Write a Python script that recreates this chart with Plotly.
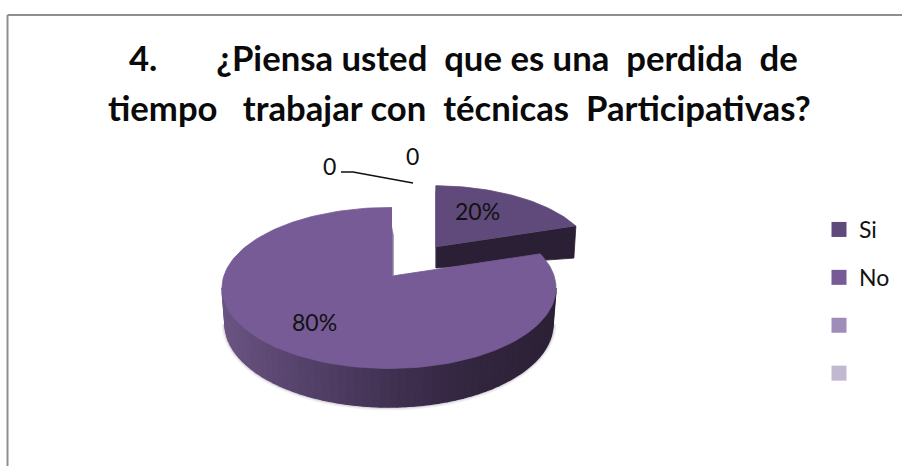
import math
import numpy as np
import plotly.graph_objects as go

# --- data ---
categories = ["Si", "No", "\u00a0", "\u00a0\u00a0"]
values = [20, 80, 0, 0]
colors = ["#604A7B", "#775B96", "#A08CB8", "#C1B8D2"]
title_lines = ["4.\u00a0\u00a0\u00a0\u00a0\u00a0\u00a0\u00a0¿Piensa usted\u00a0 que es una\u00a0 perdida\u00a0 de",
               "tiempo\u00a0\u00a0 trabajar con\u00a0 técnicas\u00a0 Participativas?"]

# --- geometry of the drawing (pixels) ---
W, H = 902, 466
MAIN = dict(apex=(392, 276), c=(389, 288), rx=167, ry=80.5)
EXPL = dict(apex=(436, 247), c=(433, 257.7), rx=159, ry=72)
LOW = dict(c=(389, 324), rx=164, ry=83)
K = 0.46
FONT = "Lato"
TXT = "#111111"


def rim(e, deg):
    """Rim point of slice angle deg (clockwise from 12 o'clock)."""
    a = math.radians(deg)
    dx, dy = math.sin(a), -math.cos(a) * K
    ax, ay = e["apex"][0] - e["c"][0], e["apex"][1] - e["c"][1]
    A = (dx / e["rx"]) ** 2 + (dy / e["ry"]) ** 2
    B = 2 * (ax * dx / e["rx"] ** 2 + ay * dy / e["ry"] ** 2)
    C = (ax / e["rx"]) ** 2 + (ay / e["ry"]) ** 2 - 1
    s = (-B + math.sqrt(B * B - 4 * A * C)) / (2 * A)
    return e["apex"][0] + s * dx, e["apex"][1] + s * dy


def poly(xs, ys, color, width=0.8):
    return go.Scatter(x=xs, y=ys, mode="lines", fill="toself", fillcolor=color,
                      line=dict(color=color, width=width),
                      hoverinfo="skip", showlegend=False)


def wall_color(x):
    stops_x = [222, 285, 400, 470, 556]
    stops_c = [(0x6B, 0x55, 0x83), (0x5A, 0x46, 0x70), (0x3F, 0x30, 0x50), (0x33, 0x26, 0x3F), (0x2C, 0x20, 0x36)]
    c = [np.interp(x, stops_x, [s[i] for s in stops_c]) for i in range(3)]
    return "rgb(%d,%d,%d)" % tuple(c)


angles = np.cumsum([0] + values) / sum(values) * 360
fig = go.Figure()

# soft shadow under the pie
for grow, col in [(3, "#EFEEF0"), (1.5, "#D9D7DB")]:
    ph = np.radians(np.linspace(0, 180, 60))
    fig.add_trace(poly(list(LOW["c"][0] + (LOW["rx"] + grow) * np.cos(ph)),
                       list(LOW["c"][1] + (LOW["ry"] + grow) * np.sin(ph)), col))

# exploded slice: radial wall, inner wall, top
a0, a1 = angles[0], angles[1]
ex_end = rim(EXPL, a1)
ex_start = rim(EXPL, a0)
ax_, ay_ = EXPL["apex"]
fig.add_trace(poly([ax_, ex_end[0], ex_end[0] - 2, ax_], [ay_, ex_end[1], ex_end[1] + 32, ay_ + 21], "#2A1F35"))
fig.add_trace(poly([ex_start[0], ax_, ax_, ex_start[0]], [ex_start[1], ay_, ay_ + 21, ex_start[1] + 6], "#3A2C4A"))
th = np.linspace(a0, a1, 60)
pts = [rim(EXPL, t) for t in th]
fig.add_trace(poly([ax_] + [p[0] for p in pts], [ay_] + [p[1] for p in pts], colors[0]))

# main slice: outer wall in a gradient
N = 60
ph = np.radians(np.linspace(0, 180, N + 1))
top = [(MAIN["c"][0] + MAIN["rx"] * np.cos(p), MAIN["c"][1] + MAIN["ry"] * np.sin(p)) for p in ph]
bot = [(LOW["c"][0] + LOW["rx"] * np.cos(p), LOW["c"][1] + LOW["ry"] * np.sin(p)) for p in ph]
for i in range(N):
    xs = [top[i][0], top[i + 1][0], bot[i + 1][0], bot[i][0]]
    ys = [top[i][1], top[i + 1][1], bot[i + 1][1], bot[i][1]]
    fig.add_trace(poly(xs, ys, wall_color(sum(xs) / 4), width=1.5))

# main slice: top face
a0, a1 = angles[1], angles[2]
th = np.linspace(a0, a1, 160)
pts = [rim(MAIN, t) for t in th]
ax_, ay_ = MAIN["apex"]
st = rim(MAIN, a1)
fig.add_trace(poly([ax_, ax_ + 1.5, ax_ + 1.5, ax_], [ay_, ay_ - 1, st[1] + 28, st[1] + 20], "#85799A", width=0.4))
fig.add_trace(poly([ax_] + [p[0] for p in pts], [ay_] + [p[1] for p in pts], colors[1]))

# leader line between the two zero labels
fig.add_trace(go.Scatter(x=[341, 353, 413], y=[172, 172, 183], mode="lines",
                         line=dict(color="#111111", width=1.5), hoverinfo="skip", showlegend=False))

# legend entries
for i, (name, col) in enumerate(zip(categories, colors)):
    fig.add_trace(go.Scatter(x=[None], y=[None], mode="markers", name=name,
                             legendgroup=f"g{i}",
                             marker=dict(symbol="square", size=15, color=col)))

# data labels
label_pos = [(477, 211), (314, 322), (329, 166), (412, 156)]
total = sum(values)
label_txt = [f"{round(v / total * 100)}%" if v else str(v) for v in values]
annots = [dict(x=x, y=y, text=t, showarrow=False, xref="x", yref="y", xanchor="center", yanchor="middle",
               font=dict(family=FONT, size=23, color=TXT))
          for (x, y), t in zip(label_pos, label_txt)]
for line, cx, cy in zip(title_lines, (463, 459), (57, 107)):
    annots.append(dict(x=cx, y=cy, text=f"<b>{line}</b>", showarrow=False, xref="x", yref="y",
                       xanchor="center", yanchor="middle", font=dict(family=FONT, size=34.7, color="#0A0A0A")))

fig.update_layout(
    width=W, height=H, autosize=False,
    margin=dict(l=0, r=0, t=0, b=0),
    paper_bgcolor="white", plot_bgcolor="white",
    xaxis=dict(range=[0, W], visible=False, fixedrange=True),
    yaxis=dict(range=[H, 0], visible=False, fixedrange=True),
    annotations=annots,
    legend=dict(x=819 / W, y=1 - 208 / H, xanchor="left", yanchor="top", tracegroupgap=15,
                font=dict(family=FONT, size=23, color=TXT), bgcolor="rgba(0,0,0,0)", itemclick=False, itemdoubleclick=False),
    shapes=[dict(type="line", xref="x", yref="y", x0=7.5, x1=W, y0=15, y1=15, line=dict(color="#8F8F8F", width=2)),
            dict(type="line", xref="x", yref="y", x0=7.5, x1=7.5, y0=15, y1=H, line=dict(color="#8F8F8F", width=2))],
    showlegend=True,
)
fig.write_html("out.html", config=dict(displayModeBar=False),
               post_script="document.body.style.margin='0';document.documentElement.style.overflow='hidden';")
